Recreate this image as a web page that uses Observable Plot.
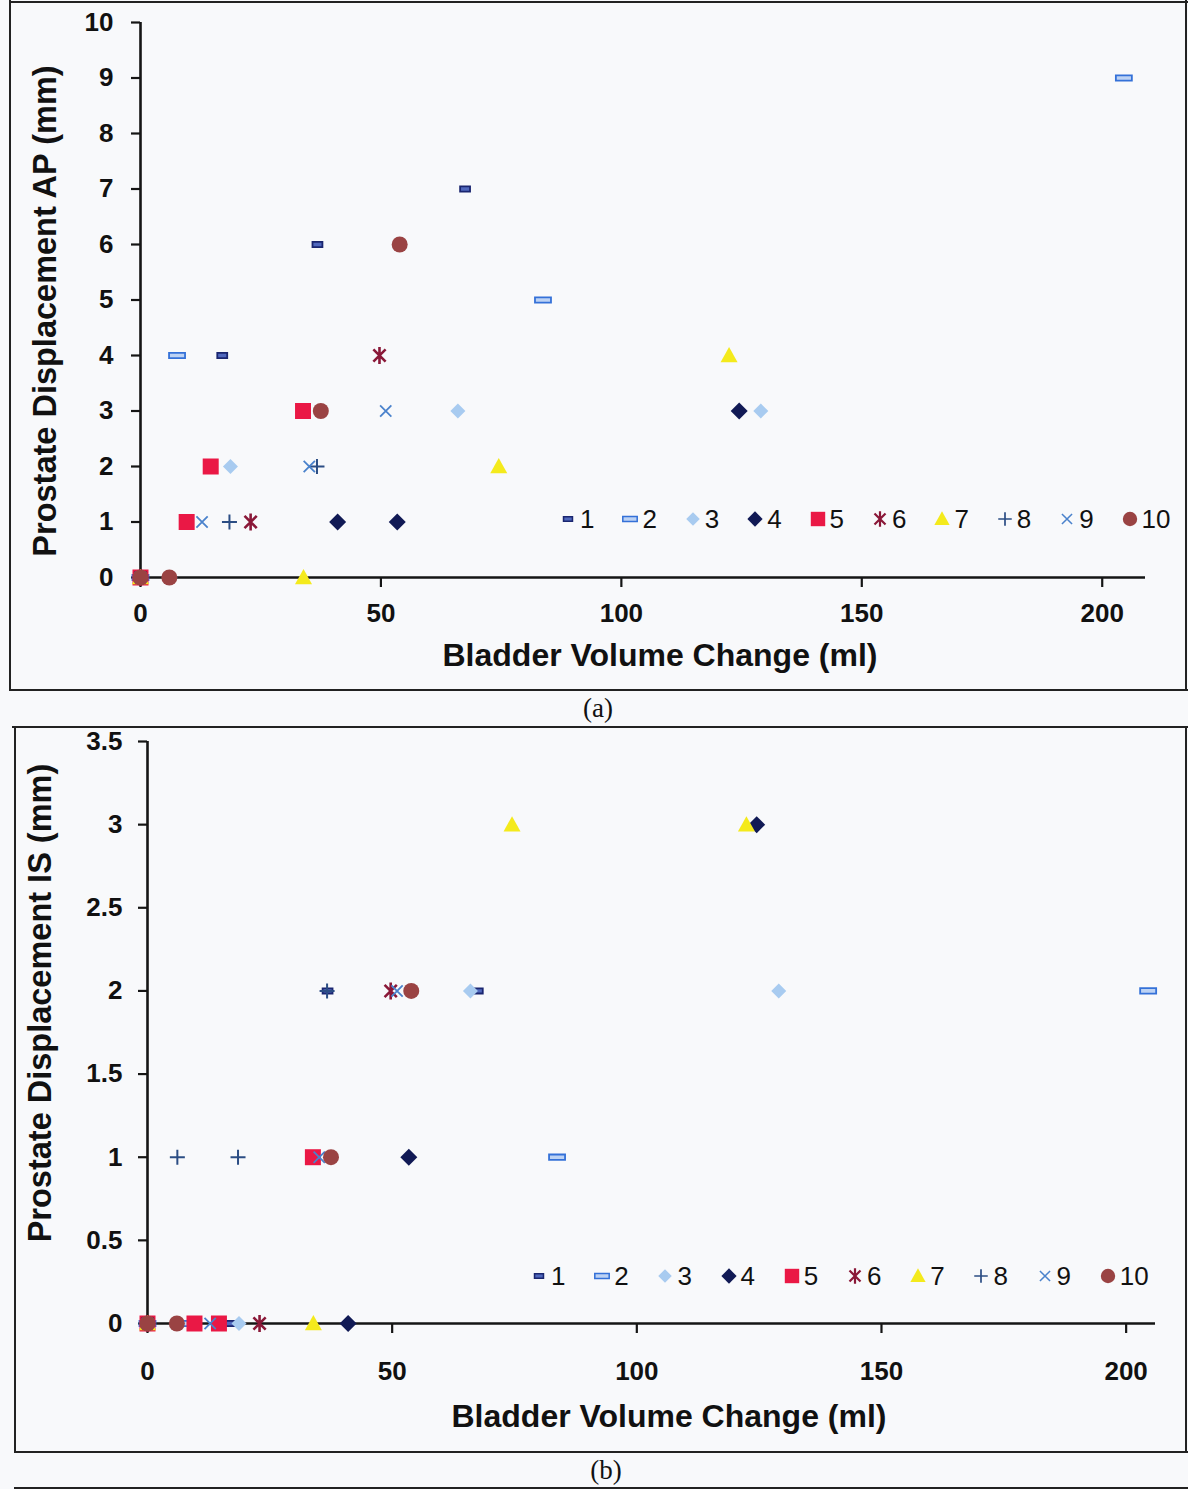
<!DOCTYPE html>
<html>
<head>
<meta charset="utf-8">
<script src="https://cdn.jsdelivr.net/npm/d3@7"></script>
<script src="https://cdn.jsdelivr.net/npm/@observablehq/plot@0.6"></script>
<style>
  body { margin: 0; background: #ffffff; }
  #page { position: relative; width: 1188px; height: 1489px; background: #f8f9fb; overflow: hidden;
          font-family: "Liberation Sans", Arial, sans-serif; color: #111; }
  .hline { position: absolute; height: 0; border-top: 2px solid #222; }
  .vline { position: absolute; width: 0; border-left: 2px solid #222; }
  .title { position: absolute; font-weight: bold; white-space: nowrap; transform: translate(-50%, -50%); color: #111; }
  .ytitle { transform: translate(-50%, -50%) rotate(-90deg); }
  .caption { position: absolute; font-family: "Liberation Serif", "Times New Roman", serif; font-size: 27px; transform: translate(-50%, -50%); color: #111; }
  .leg { position: absolute; font-size: 26px; white-space: nowrap; color: #111; }
  .leg svg { position: absolute; overflow: visible; }
  .leg span { position: absolute; line-height: 1; }
  #page svg g[aria-label="x-axis tick"] path,
  #page svg g[aria-label="y-axis tick"] path,
  #page svg g.tick line { stroke-width: 2.2px; stroke: #151515; }
</style>
</head>
<body>
<div id="page"></div>
<script>
// ---------------- data ----------------
const patients = ["1", "2", "3", "4", "5", "6", "7", "8", "9", "10"];
// one entry per scan
const scanPatient = [
  "1", "1", "1", "1",
  "2", "2", "2", "2",
  "3", "3", "3", "3",
  "4", "4", "4", "4",
  "5", "5", "5", "5",
  "6", "6", "6",
  "7", "7", "7", "7",
  "8", "8", "8", "8",
  "9", "9", "9", "9",
  "10", "10", "10", "10"
];
const volumeChange = [
  0, 17, 36.8, 67.5,
  0, 7.6, 83.7, 204.5,
  0, 18.7, 66, 129,
  0, 41, 53.4, 124.5,
  0, 9.6, 14.6, 33.8,
  0, 22.9, 49.7,
  0, 33.9, 74.5, 122.4,
  0, 6.1, 18.5, 36.7,
  0, 12.8, 35.1, 51,
  0, 6, 37.5, 53.9
];
const apDisplacement = [
  0, 4, 6, 7,
  0, 4, 5, 9,
  0, 2, 3, 3,
  0, 1, 1, 3,
  0, 1, 2, 3,
  0, 1, 4,
  0, 0, 2, 4,
  0, 0, 1, 2,
  0, 1, 2, 3,
  0, 0, 3, 6
];
const isDisplacement = [
  0, 0, 2, 2,
  0, 0, 1, 2,
  0, 0, 2, 2,
  0, 0, 1, 3,
  0, 0, 0, 1,
  0, 0, 2,
  0, 0, 3, 3,
  0, 1, 1, 2,
  0, 0, 1, 2,
  0, 0, 1, 2
];
const xTicks = [0, 50, 100, 150, 200];
const apTicks = [0, 1, 2, 3, 4, 5, 6, 7, 8, 9, 10];
const isTicks = [0, 0.5, 1, 1.5, 2, 2.5, 3, 3.5];
const xTitle = "Bladder Volume Change (ml)";
const apTitle = "Prostate Displacement AP (mm)";
const isTitle = "Prostate Displacement IS (mm)";

// ---------------- symbols & styles ----------------
function sym(fn) { return { draw(c, size) { fn(c, Math.sqrt(size / Math.PI)); } }; }
const SYM = {
  dashS: sym((c, r) => c.rect(-0.62 * r, -0.32 * r, 1.24 * r, 0.64 * r)),
  dashL: sym((c, r) => c.rect(-r, -0.34 * r, 2 * r, 0.68 * r)),
  diamond: sym((c, r) => { c.moveTo(0, -r); c.lineTo(r, 0); c.lineTo(0, r); c.lineTo(-r, 0); c.closePath(); }),
  square: sym((c, r) => c.rect(-r, -r, 2 * r, 2 * r)),
  circle: sym((c, r) => { c.moveTo(r, 0); c.arc(0, 0, r, 0, 2 * Math.PI); }),
  triangle: sym((c, r) => { c.moveTo(0, -r); c.lineTo(r, 0.8 * r); c.lineTo(-r, 0.8 * r); c.closePath(); }),
  asterisk: sym((c, r) => { const a = 0.72 * r; c.moveTo(-a, -a); c.lineTo(a, a); c.moveTo(a, -a); c.lineTo(-a, a); c.moveTo(0, -r); c.lineTo(0, r); }),
  plus: sym((c, r) => { c.moveTo(-r, 0); c.lineTo(r, 0); c.moveTo(0, -r); c.lineTo(0, r); }),
  cross: sym((c, r) => { const a = 0.75 * r; c.moveTo(-a, -a); c.lineTo(a, a); c.moveTo(a, -a); c.lineTo(-a, a); })
};
const markStyle = [
  { symbol: SYM.dashS,    r: 8,   fill: "#5068bd", stroke: "#1a2670", sw: 1.8 },
  { symbol: SYM.dashL,    r: 8,   fill: "#bcd2f4", stroke: "#3471d8", sw: 1.8 },
  { symbol: SYM.diamond,  r: 7.5, fill: "#a8cbf0", stroke: "none",    sw: 0 },
  { symbol: SYM.diamond,  r: 8.5, fill: "#111a55", stroke: "none",    sw: 0 },
  { symbol: SYM.square,   r: 8,   fill: "#ea1845", stroke: "none",    sw: 0 },
  { symbol: SYM.asterisk, r: 8.5, fill: "none",    stroke: "#8a1838", sw: 2.6 },
  { symbol: SYM.triangle, r: 8.5, fill: "#f4ea1c", stroke: "none",    sw: 0 },
  { symbol: SYM.plus,     r: 7.5, fill: "none",    stroke: "#2b4d84", sw: 2 },
  { symbol: SYM.cross,    r: 7.5, fill: "none",    stroke: "#4a82cc", sw: 1.8 },
  { symbol: SYM.circle,   r: 8,   fill: "#9a4343", stroke: "none",    sw: 0 }
];

// ---------------- chart builder ----------------
function makeChart(cfg) {
  const rows = scanPatient.map((p, i) => ({ patient: p, volume: volumeChange[i], disp: cfg.values[i] }));
  const marks = [
    Plot.ruleY([0], { stroke: "#151515", strokeWidth: 2.6 }),
    Plot.ruleX([0], { stroke: "#151515", strokeWidth: 2.6 }),
    ...patients.map((p, k) => {
      const s = markStyle[k];
      return Plot.dot(rows.filter(d => d.patient === p), {
        x: "volume", y: "disp", symbol: s.symbol, r: s.r,
        fill: s.fill, stroke: s.stroke, strokeWidth: s.sw
      });
    })
  ];
  return Plot.plot({
    width: 1188, height: cfg.height,
    marginLeft: cfg.ml, marginRight: cfg.mr, marginTop: cfg.mt, marginBottom: cfg.mb,
    x: { domain: [0, cfg.xMax], ticks: xTicks, tickSize: 10, tickPadding: cfg.xPad, label: null, tickFormat: d => String(d) },
    y: { domain: cfg.yDomain, ticks: cfg.yTicks, tickSize: 9, tickPadding: cfg.yPad, label: null, tickFormat: d => String(d) },
    style: { fontSize: "26px", fontWeight: "bold", fontFamily: "'Liberation Sans', Arial, sans-serif",
             color: "#111", background: "transparent", overflow: "visible" },
    marks
  });
}

const page = document.getElementById("page");
function place(el, left, top) { el.style.position = "absolute"; el.style.left = left + "px"; el.style.top = top + "px"; page.appendChild(el); return el; }
function div(cls, text, css) { const d = document.createElement("div"); d.className = cls; if (text != null) d.textContent = text; Object.assign(d.style, css || {}); page.appendChild(d); return d; }

// frames
div("vline", null, { left: "9px", top: "0px", height: "690px" });
div("vline", null, { left: "1185px", top: "0px", height: "690px" });
div("hline", null, { left: "9px", top: "1px", width: "1179px" });
div("hline", null, { left: "9px", top: "689px", width: "1179px" });
div("hline", null, { left: "12px", top: "726px", width: "1176px" });
div("vline", null, { left: "14px", top: "726px", height: "727px" });
div("vline", null, { left: "1185px", top: "726px", height: "727px" });
div("hline", null, { left: "14px", top: "1451px", width: "1174px" });
div("hline", null, { left: "14px", top: "1487px", width: "1174px" });

// charts
place(makeChart({ values: apDisplacement, height: 690, ml: 140, mr: 43, mt: 22, mb: 113,
  xMax: 209, yDomain: [0, 10], yTicks: apTicks, xPad: 16, yPad: 18 }), 0, 0);
place(makeChart({ values: isDisplacement, height: 752, ml: 147, mr: 33, mt: 41, mb: 129,
  xMax: 206, yDomain: [0, 3.5], yTicks: isTicks, xPad: 28, yPad: 16 }), 0, 700);

// titles
div("title", xTitle, { left: "660px", top: "655px", fontSize: "32px" });
div("title ytitle", apTitle, { left: "45px", top: "311px", fontSize: "32.5px" });
div("title", xTitle, { left: "669px", top: "1416px", fontSize: "32px" });
div("title ytitle", isTitle, { left: "40px", top: "1003px", fontSize: "32.5px" });
div("caption", "(a)", { left: "598px", top: "708px" });
div("caption", "(b)", { left: "606px", top: "1470px" });

// legends
function legend(x0, y0, step, scale) {
  patients.forEach((p, k) => {
    const s = markStyle[k];
    const item = div("leg", null, { left: (x0 + k * step) + "px", top: y0 + "px" });
    const svg = d3.create("svg").attr("width", 20).attr("height", 20)
      .style("left", "-10px").style("top", "-10px");
    const path = d3.path();
    const rr = s.r * scale;
    s.symbol.draw(path, Math.PI * rr * rr);
    svg.append("path").attr("transform", "translate(10,10)").attr("d", path.toString())
      .attr("fill", s.fill).attr("stroke", s.stroke).attr("stroke-width", s.sw * 0.85);
    item.appendChild(svg.node());
    const t = document.createElement("span");
    t.textContent = p;
    t.style.left = "12px"; t.style.top = "-13px";
    item.appendChild(t);
  });
}
legend(568, 519, 62.4, 0.9);
legend(539, 1276, 63.2, 0.9);
</script>
</body>
</html>
